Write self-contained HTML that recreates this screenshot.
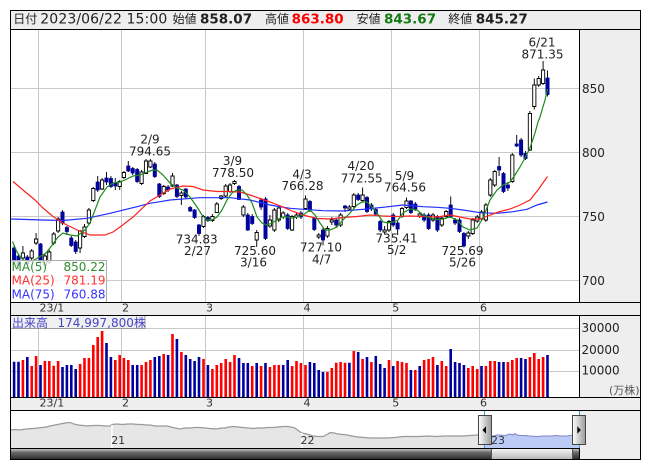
<!DOCTYPE html>
<html><head><meta charset="utf-8"><style>html,body{margin:0;padding:0;background:#fff;}svg{display:block;}</style></head>
<body>
<svg width="653" height="470" viewBox="0 0 653 470" xmlns="http://www.w3.org/2000/svg" font-family="'DejaVu Sans','Noto Sans CJK JP',sans-serif">
<defs>
<linearGradient id="trk" x1="0" y1="0" x2="0" y2="1"><stop offset="0" stop-color="#d0d0d0"/><stop offset="0.35" stop-color="#6a6a6a"/><stop offset="1" stop-color="#2a2a2a"/></linearGradient>
<linearGradient id="thumb" x1="0" y1="0" x2="0" y2="1"><stop offset="0" stop-color="#f8f8f8"/><stop offset="1" stop-color="#b4b4b4"/></linearGradient>
<linearGradient id="hdl" x1="0" y1="0" x2="1" y2="0"><stop offset="0" stop-color="#ffffff"/><stop offset="1" stop-color="#9a9a9a"/></linearGradient>
</defs>
<rect width="653" height="470" fill="#fff"/>
<!-- backgrounds -->
<rect x="10.5" y="10.5" width="630" height="19" fill="#eeeeee"/>
<rect x="579.5" y="29.5" width="61" height="273" fill="#eeeeee"/>
<rect x="10.5" y="302.5" width="630" height="13" fill="#eeeeee"/>
<rect x="579.5" y="315.5" width="61" height="82" fill="#eeeeee"/>
<rect x="10.5" y="397.5" width="630" height="13" fill="#eeeeee"/>
<rect x="579.5" y="410.5" width="61" height="49" fill="#eeeeee"/>
<!-- grid -->
<path d="M10.5 88.5H579M10.5 152.5H579M10.5 216.5H579M10.5 280.5H579M38.5 30V302M121.5 30V302M205.5 30V302M303.5 30V302M391.5 30V302M479.5 30V302M10.5 328.5H579M10.5 350.5H579M10.5 371.5H579M38.5 316V397M121.5 316V397M205.5 316V397M303.5 316V397M391.5 316V397M479.5 316V397" stroke="#c8c8c8" stroke-width="1" fill="none"/>
<!-- wicks -->
<path stroke="#111" stroke-width="1" fill="none" d="M14.1 246V265M18.5 254V270M22.9 246V260M27.3 255V266M31.7 249V262M36.1 233V245M40.5 243V265M44.9 254V268M49.3 250V264M53.7 232V245M58.1 217V233M62.5 210V225M66.9 226V235M71.3 236V247M75.7 240V254M80.1 230V253M84.5 224V238M88.9 208V225M93.3 187V202M97.7 176V192M102.1 178V190M106.5 172V185M110.9 176V188M115.3 178V190M119.7 180V190M123.9 171V179M128.3 161V172M132.7 167V175M137.2 168V183M141.6 170V185M146 159V174M150.4 159V168M154.8 162V178M159.3 183V198M163.7 185V195M168.1 185V192M172.5 173V187M176.9 184V198M181.4 191V205M185.8 188V199M190.2 206V212M194.6 209V219M199 224V236M203.5 215V228M207.9 216V222M212.4 214V222M216.8 202V213M221.2 195V200M225.7 184V198M230.1 183V193M234.5 180V185M239 185V200M243.4 205V217M247.8 213V231M252.2 214V225M256.7 230V247M261.1 198V210M265.5 197V240M269.9 215V228M274.4 208V232M278.8 207V222M283.2 211V219M287.7 213V230M292.1 215V231M296.5 213V219M300.9 211V219M305.5 195.5V210M309.9 200V212M314.3 217V231M318.7 233V239M323 228V245.5M327.4 226V238M331.8 217V225M336.2 218V227M340.6 213V227M345 205V212M349.4 205V211M353.8 193V208M358.2 193V201M362.6 187.5V202M367 196V213M371.4 203V211M375.8 208V216M380.2 220V232M384.6 226V234M389 220V232M393.2 213V227M397.6 221V235M402 207V218M406.5 197.5V209M410.9 200V214M415.3 202V211M419.7 212V218M424.1 213V222M428.6 213V230M433 213V222M437.4 215V232M441.8 216V227M446.2 210V218M450.7 196.5V218M455.1 218V225M459.5 218V233M463.9 232V247.5M468.3 231V239M472.7 218V235M477.2 215V223M481.5 210V221M485.9 203V222M490.3 178V197M494.7 170V187M499.1 157V176M503.5 172V193M507.9 182V191M512.3 153V183M516.7 135V147M521.1 138V157M525.5 151V160M529.9 111V151M534.3 78.5V109.5M538.7 76V87M543.1 61V85M547.5 70.5V96.5"/>
<!-- white bodies -->
<path fill="#fff" stroke="#000" stroke-width="0.9" d="M21.3 253h3.2v5h-3.2zM30.1 251h3.2v7h-3.2zM34.5 239h3.2v4h-3.2zM43.3 256h3.2v9h-3.2zM47.7 252h3.2v10h-3.2zM52.1 234h3.2v9h-3.2zM56.5 219h3.2v12h-3.2zM78.5 231h3.2v17h-3.2zM82.9 227h3.2v9.5h-3.2zM87.3 210h3.2v13h-3.2zM91.7 188.5h3.2v12h-3.2zM100.5 180h3.2v9h-3.2zM118.1 181.5h3.2v5h-3.2zM122.3 172.5h3.2v5h-3.2zM140 172h3.2v11.5h-3.2zM144.4 161h3.2v12.5h-3.2zM148.8 161h3.2v6h-3.2zM162.1 186.5h3.2v7h-3.2zM170.9 176h3.2v10h-3.2zM179.8 193h3.2v2.5h-3.2zM201.9 216.5h3.2v10h-3.2zM210.8 216.5h3.2v4h-3.2zM215.2 204h3.2v8.5h-3.2zM219.6 196h3.2v2.5h-3.2zM224.1 186h3.2v10h-3.2zM228.5 185h3.2v6.5h-3.2zM232.9 181.5h3.2v2h-3.2zM241.8 207h3.2v8h-3.2zM255.1 232.5h3.2v7.5h-3.2zM268.3 220h3.2v6h-3.2zM272.8 210h3.2v20h-3.2zM277.2 208h3.2v12h-3.2zM281.6 213h3.2v4h-3.2zM290.5 216.5h3.2v13.5h-3.2zM294.9 215h3.2v2h-3.2zM303.9 199h3.2v9.5h-3.2zM317.1 235h3.2v2h-3.2zM325.8 228.5h3.2v7.5h-3.2zM330.2 220h3.2v2h-3.2zM339 215h3.2v10h-3.2zM347.8 207h3.2v2h-3.2zM352.2 195h3.2v11.5h-3.2zM361 195h3.2v5.5h-3.2zM383 230h3.2v2h-3.2zM387.4 221.5h3.2v8.5h-3.2zM400.4 208.5h3.2v8h-3.2zM404.9 201h3.2v6.5h-3.2zM418.1 214h3.2v2h-3.2zM431.4 215h3.2v5h-3.2zM440.2 218h3.2v7h-3.2zM444.6 211.5h3.2v5h-3.2zM466.7 233h3.2v3h-3.2zM471.1 220h3.2v13.5h-3.2zM475.6 217h3.2v4h-3.2zM479.9 212h3.2v7h-3.2zM484.3 205h3.2v15h-3.2zM488.7 180h3.2v15h-3.2zM493.1 171.5h3.2v13.5h-3.2zM510.7 155h3.2v26.5h-3.2zM528.3 113.5h3.2v36.5h-3.2zM532.7 85h3.2v21.5h-3.2zM537.1 78.5h3.2v6.5h-3.2zM541.5 70h3.2v13.5h-3.2z"/>
<!-- blue bodies -->
<path fill="#00009c" stroke="#00009c" stroke-width="0.8" d="M12.5 248h3.2v14h-3.2zM16.9 256h3.2v10h-3.2zM25.7 257h3.2v7h-3.2zM38.9 244h3.2v18h-3.2zM60.9 212h3.2v11h-3.2zM65.3 227.5h3.2v4h-3.2zM69.7 238h3.2v7.5h-3.2zM74.1 242h3.2v9.5h-3.2zM96.1 182h3.2v8h-3.2zM104.9 178h3.2v4h-3.2zM109.3 178.5h3.2v8h-3.2zM113.7 183h3.2v3h-3.2zM126.7 166h3.2v5h-3.2zM131.1 168.5h3.2v4.5h-3.2zM135.6 169.5h3.2v12h-3.2zM153.2 164h3.2v12.5h-3.2zM157.7 184h3.2v12.5h-3.2zM166.5 187h3.2v3h-3.2zM175.3 185h3.2v11.5h-3.2zM184.2 189h3.2v8h-3.2zM188.6 207.5h3.2v3.5h-3.2zM193 210h3.2v7.5h-3.2zM197.4 225h3.2v8.5h-3.2zM206.3 217.5h3.2v3h-3.2zM237.4 186.5h3.2v13h-3.2zM246.2 215h3.2v15h-3.2zM250.6 216.5h3.2v7h-3.2zM259.5 200h3.2v7h-3.2zM263.9 199h3.2v39.5h-3.2zM286.1 215h3.2v13.5h-3.2zM299.3 213h3.2v4h-3.2zM308.3 201.5h3.2v8.5h-3.2zM312.7 218.5h3.2v11h-3.2zM321.4 230h3.2v10h-3.2zM334.6 220h3.2v5h-3.2zM343.4 206h3.2v2h-3.2zM356.6 195h3.2v4.5h-3.2zM365.4 197.5h3.2v14h-3.2zM369.8 205h3.2v4h-3.2zM374.2 209.5h3.2v4.5h-3.2zM378.6 221.5h3.2v8.5h-3.2zM391.6 215h3.2v10h-3.2zM396 223h3.2v6h-3.2zM409.3 201h3.2v11.5h-3.2zM413.7 204h3.2v5h-3.2zM422.5 215h3.2v5h-3.2zM427 215h3.2v13.5h-3.2zM435.8 216.5h3.2v13.5h-3.2zM449.1 205h3.2v11.5h-3.2zM453.5 220h3.2v3h-3.2zM457.9 220h3.2v11.5h-3.2zM462.3 233.5h3.2v12.5h-3.2zM497.5 166.5h3.2v3.5h-3.2zM501.9 173.5h3.2v18h-3.2zM506.3 185h3.2v3h-3.2zM515.1 144h3.2v2h-3.2zM519.5 140h3.2v15h-3.2zM523.9 153.5h3.2v5h-3.2zM545.9 78h3.2v16.5h-3.2z"/>
<!-- moving averages -->
<polyline fill="none" stroke="#2030ff" stroke-width="1.2" points="11,219 43,220 63,220.5 87,218.3 110,213.3 137,206.7 150,203.3 160,201.7 170,200 200,197.7 230,197.7 250,200 270,205 290,208.3 303,209.3 323,210.7 343,211 363,209.3 383,207.3 403,205 423,206.7 437,207.3 450,208.3 463,210 480,212.7 497,213.3 513,211.7 527,209.3 537,205 547.5,202"/>
<polyline fill="none" stroke="#ff2020" stroke-width="1.2" points="13,181.5 23,190 35,200 43,208 53,216.5 63,223 77,230 90,235 105,235 113,232 120,227 133,217 150,201 160,195 170,189 183,186 193,186.5 203,190 217,191.5 230,191.5 240,192 250,195 260,198.5 270,202 283,207 292,211 303,215 317,218.5 330,219 343,217.5 357,216.5 370,215 383,216 397,216.5 410,216 423,216.5 437,217 450,215 460,217 470,219 480,219 490,215 500,211.5 510,209 520,205 530,200 538,190 547.5,176.5"/>
<polyline fill="none" stroke="#1d8a1d" stroke-width="1.2" points="12.5,241.5 16,250 20,257 25,261 30,262 36,259 41,256 46,253 53,244 58,237 63,233 70,235 77,236 85,230 90,223 95,210 100,197 107,187 113,183 120,182 127,179 133,176 140,175 147,172 153,170 157,170 163,175 170,183 177,188 183,190 190,197 197,207 202,215 207,220 212,220 217,217 222,210 227,200 232,193 237,190 242,190 247,195 252,203 257,217 262,223 267,225 272,223 277,220 282,217 287,217 292,218 297,217 303,215 310,210 315,215 320,223 325,230 330,230 337,227 343,220 350,213 357,205 362,202 367,202 372,207 377,213 383,222 388,223 393,222 398,220 403,213 410,209 417,210 423,215 430,218 437,219.5 443,219 450,217 457,220 463,227 470,230 477,228 483,218 490,200 497,190 503,185 510,182 515,175 520,167 525,158 530,148 535,133 538,122 540,117 545,100 547.5,89"/>
<!-- annotations -->
<g font-size="12" fill="#222" text-anchor="middle">
<text x="150" y="143.5">2/9</text><text x="150" y="155.5">794.65</text>
<text x="232.5" y="165">3/9</text><text x="233" y="176.8">778.50</text>
<text x="196.7" y="243.4">734.83</text><text x="197.5" y="255">2/27</text>
<text x="255" y="255">725.60</text><text x="253.5" y="266.7">3/16</text>
<text x="302" y="178.3">4/3</text><text x="302.5" y="190">766.28</text>
<text x="361" y="170">4/20</text><text x="361.7" y="182.5">772.55</text>
<text x="404.5" y="180">5/9</text><text x="405" y="191.7">764.56</text>
<text x="321" y="251.7">727.10</text><text x="321.7" y="263.5">4/7</text>
<text x="396.5" y="242.5">735.41</text><text x="396.7" y="254">5/2</text>
<text x="462.5" y="255">725.69</text><text x="462.5" y="266.5">5/26</text>
<text x="542" y="46.7">6/21</text><text x="542.5" y="58.3">871.35</text>
</g>
<!-- MA legend -->
<rect x="10.5" y="260.5" width="96" height="42" fill="#ffffff" fill-opacity="0.8" stroke="#aaaaaa" stroke-width="1"/>
<g font-size="12">
<text x="11.5" y="271" fill="#2f8f2f">MA(5)</text><text x="105.5" y="271" fill="#2f8f2f" text-anchor="end">850.22</text>
<text x="11.5" y="284.7" fill="#ff3030">MA(25)</text><text x="105.5" y="284.7" fill="#ff3030" text-anchor="end">781.19</text>
<text x="11.5" y="298.3" fill="#3535ff">MA(75)</text><text x="105.5" y="298.3" fill="#3535ff" text-anchor="end">760.88</text>
</g>
<!-- price axis labels -->
<g font-size="12" fill="#222">
<text x="582" y="92.8">850</text><text x="582" y="156.8">800</text><text x="582" y="220.8">750</text><text x="582" y="284.8">700</text>
<text x="581.5" y="331.8">30000</text><text x="581.5" y="354">20000</text><text x="581.5" y="374.6">10000</text>
</g>
<text x="609" y="394" font-size="11" fill="#555">(万株)</text>
<!-- date labels -->
<g font-size="11" fill="#333">
<text x="39.5" y="311.6">23/1</text><text x="122" y="311.6">2</text><text x="206" y="311.6">3</text><text x="303.5" y="311.6">4</text><text x="392.3" y="311.6">5</text><text x="480" y="311.6">6</text>
<text x="39.5" y="406.7">23/1</text><text x="122" y="406.7">2</text><text x="206" y="406.7">3</text><text x="303.5" y="406.7">4</text><text x="392.3" y="406.7">5</text><text x="480" y="406.7">6</text>
</g>
<!-- volume bars -->
<path fill="#ff0000" d="M21.6 360h2.6V397h-2.6zM30.4 366h2.6V397h-2.6zM34.8 356h2.6V397h-2.6zM43.6 361h2.6V397h-2.6zM48 361h2.6V397h-2.6zM52.4 365.7h2.6V397h-2.6zM56.8 361h2.6V397h-2.6zM78.8 364h2.6V397h-2.6zM83.2 358h2.6V397h-2.6zM87.6 358h2.6V397h-2.6zM92 345h2.6V397h-2.6zM96.4 337h2.6V397h-2.6zM100.8 331h2.6V397h-2.6zM114 360h2.6V397h-2.6zM118.4 355h2.6V397h-2.6zM122.6 358h2.6V397h-2.6zM127 360h2.6V397h-2.6zM140.3 365h2.6V397h-2.6zM144.7 362h2.6V397h-2.6zM149.1 360h2.6V397h-2.6zM162.4 354h2.6V397h-2.6zM171.2 334h2.6V397h-2.6zM180.1 352h2.6V397h-2.6zM202.2 359h2.6V397h-2.6zM211.1 369h2.6V397h-2.6zM215.5 365h2.6V397h-2.6zM219.9 363h2.6V397h-2.6zM224.4 359h2.6V397h-2.6zM228.8 362h2.6V397h-2.6zM233.2 355h2.6V397h-2.6zM250.9 366h2.6V397h-2.6zM259.8 366h2.6V397h-2.6zM268.6 367h2.6V397h-2.6zM273.1 365h2.6V397h-2.6zM277.5 365h2.6V397h-2.6zM290.8 366h2.6V397h-2.6zM295.2 361h2.6V397h-2.6zM299.6 363h2.6V397h-2.6zM304.2 365h2.6V397h-2.6zM326.1 372h2.6V397h-2.6zM330.5 368h2.6V397h-2.6zM334.9 362.7h2.6V397h-2.6zM339.3 362h2.6V397h-2.6zM343.7 362.7h2.6V397h-2.6zM352.5 351h2.6V397h-2.6zM361.3 359h2.6V397h-2.6zM370.1 362h2.6V397h-2.6zM387.7 360h2.6V397h-2.6zM396.3 361h2.6V397h-2.6zM400.7 362h2.6V397h-2.6zM405.2 363h2.6V397h-2.6zM414 370h2.6V397h-2.6zM422.8 360h2.6V397h-2.6zM427.3 359h2.6V397h-2.6zM431.7 357h2.6V397h-2.6zM440.5 361h2.6V397h-2.6zM444.9 366h2.6V397h-2.6zM467 368h2.6V397h-2.6zM471.4 366h2.6V397h-2.6zM475.9 369h2.6V397h-2.6zM484.6 366h2.6V397h-2.6zM489 361h2.6V397h-2.6zM493.4 361h2.6V397h-2.6zM506.6 362h2.6V397h-2.6zM511 360h2.6V397h-2.6zM515.4 358h2.6V397h-2.6zM528.6 357h2.6V397h-2.6zM533 353h2.6V397h-2.6zM537.4 359h2.6V397h-2.6zM541.8 357h2.6V397h-2.6z"/>
<path fill="#00009c" d="M12.8 361.7h2.6V397h-2.6zM17.2 361.7h2.6V397h-2.6zM26 357h2.6V397h-2.6zM39.2 365h2.6V397h-2.6zM61.2 367h2.6V397h-2.6zM65.6 365h2.6V397h-2.6zM70 365h2.6V397h-2.6zM74.4 369h2.6V397h-2.6zM105.2 343h2.6V397h-2.6zM109.6 357h2.6V397h-2.6zM131.4 365h2.6V397h-2.6zM135.9 365h2.6V397h-2.6zM153.5 357h2.6V397h-2.6zM158 356h2.6V397h-2.6zM166.8 355h2.6V397h-2.6zM175.6 339h2.6V397h-2.6zM184.5 355h2.6V397h-2.6zM188.9 359h2.6V397h-2.6zM193.3 361h2.6V397h-2.6zM197.7 357h2.6V397h-2.6zM206.6 365h2.6V397h-2.6zM237.7 358h2.6V397h-2.6zM242.1 363h2.6V397h-2.6zM246.5 363h2.6V397h-2.6zM255.4 363h2.6V397h-2.6zM264.2 363h2.6V397h-2.6zM281.9 365h2.6V397h-2.6zM286.4 360h2.6V397h-2.6zM308.6 362h2.6V397h-2.6zM313 363h2.6V397h-2.6zM317.4 370h2.6V397h-2.6zM321.7 372h2.6V397h-2.6zM348.1 362.7h2.6V397h-2.6zM356.9 352h2.6V397h-2.6zM365.7 357h2.6V397h-2.6zM374.5 356h2.6V397h-2.6zM378.9 364h2.6V397h-2.6zM383.3 368h2.6V397h-2.6zM391.9 366h2.6V397h-2.6zM409.6 370h2.6V397h-2.6zM418.4 366h2.6V397h-2.6zM436.1 365h2.6V397h-2.6zM449.4 349h2.6V397h-2.6zM453.8 362h2.6V397h-2.6zM458.2 363h2.6V397h-2.6zM462.6 365h2.6V397h-2.6zM480.2 366h2.6V397h-2.6zM497.8 362h2.6V397h-2.6zM502.2 362h2.6V397h-2.6zM519.8 358h2.6V397h-2.6zM524.2 359h2.6V397h-2.6zM546.2 355h2.6V397h-2.6z"/>
<!-- volume label -->
<rect x="10.5" y="315.5" width="134.5" height="13" fill="#eeeeee" fill-opacity="0.9" stroke="#999" stroke-width="1"/>
<text x="12" y="327" font-size="12" fill="#4545c8">出来高</text>
<text x="57.5" y="327" font-size="12" fill="#4545c8">174,997,800株</text>
<!-- navigator -->
<polygon fill="#e6e6e6" points="10.5,430 15,429.5 20,430 26,429 33,428.5 38,428 42,427.5 46,427 50,426 55,425 60,424 65,423 70,422.5 74,424 78,425 83,425.5 87,426 93,425.5 100,425.5 105,426 110,426 112,424.5 117,424 122,424.5 128,424 133,424 138,424.5 142,424.5 146,425 150,425 155,426 160,426 167,426 171,427 175,428 180,429 185,428 190,428 195,427.5 200,427.5 205,428 210,428.5 217,429 221,428 225,428 229,427 233,426.5 238,427 243,427.5 248,428 253,428.5 258,428 263,428 268,427.5 273,427.5 278,427 283,426.5 287,426.5 291,427 295,428 298,430.5 302,433 307,434 313,436 318,436.5 323,436.5 326,435 328,434 330,432.5 334,433 338,434 343,434.5 347,435 352,436 358,437 364,437.5 370,438 378,438 387,438 395,437.5 403,436.5 410,436.5 420,436.5 428,436 437,436.5 444,436 450,436 457,436 463,436 470,435.5 478,435 484.5,435 484.5,448 10.5,448"/>
<polyline fill="none" stroke="#9a9a9a" stroke-width="1.2" points="10.5,430 15,429.5 20,430 26,429 33,428.5 38,428 42,427.5 46,427 50,426 55,425 60,424 65,423 70,422.5 74,424 78,425 83,425.5 87,426 93,425.5 100,425.5 105,426 110,426 112,424.5 117,424 122,424.5 128,424 133,424 138,424.5 142,424.5 146,425 150,425 155,426 160,426 167,426 171,427 175,428 180,429 185,428 190,428 195,427.5 200,427.5 205,428 210,428.5 217,429 221,428 225,428 229,427 233,426.5 238,427 243,427.5 248,428 253,428.5 258,428 263,428 268,427.5 273,427.5 278,427 283,426.5 287,426.5 291,427 295,428 298,430.5 302,433 307,434 313,436 318,436.5 323,436.5 326,435 328,434 330,432.5 334,433 338,434 343,434.5 347,435 352,436 358,437 364,437.5 370,438 378,438 387,438 395,437.5 403,436.5 410,436.5 420,436.5 428,436 437,436.5 444,436 450,436 457,436 463,436 470,435.5 478,435 484.5,435"/>
<path d="M112 425V448M302 433V448" stroke="#fff" stroke-width="1.5"/>
<polygon fill="#bccbf6" points="484.5,435 490,435.5 493,436 497,435 500,435 505,435.5 510,434 513,435 515,433.5 517,435 520,435.5 525,435.5 530,436 537,436.5 543,436 550,436 556,435.5 560,436 567,436 573,435 579.5,435 579.5,448 484.5,448"/>
<polyline fill="none" stroke="#8585c8" stroke-width="1.1" points="484.5,435 490,435.5 493,436 497,435 500,435 505,435.5 510,434 513,435 515,433.5 517,435 520,435.5 525,435.5 530,436 537,436.5 543,436 550,436 556,435.5 560,436 567,436 573,435 579.5,435"/>
<g font-size="11" fill="#333">
<text x="111.2" y="444">21</text><text x="300.5" y="444">22</text><text x="491" y="444">23</text>
</g>
<path d="M484.5 410.5V448M579.5 410.5V448" stroke="#3399dd" stroke-width="1"/>
<!-- scrollbar -->
<rect x="10.5" y="448.5" width="481" height="11" fill="url(#trk)"/>
<rect x="572.5" y="448.5" width="7" height="11" fill="url(#trk)" stroke="#333" stroke-width="1"/>
<rect x="491.5" y="448.5" width="81" height="11" fill="url(#thumb)" stroke="#555" stroke-width="1"/>
<!-- handles -->
<rect x="478.5" y="415.5" width="13" height="29" fill="url(#hdl)" stroke="#444" stroke-width="1"/>
<polygon points="482.5,430 486,426.3 486,433.7" fill="#000"/>
<rect x="572.5" y="415.5" width="13" height="29" fill="url(#hdl)" stroke="#444" stroke-width="1"/>
<polygon points="577.3,426.3 577.3,433.7 580.8,430" fill="#000"/>
<!-- structural lines -->
<path d="M10.5 29.5H640.5M10.5 302.5H640.5M10.5 315.5H640.5M10.5 397.5H640.5M10.5 410.5H640.5M10.5 448.5H579.5M579.5 29.5V302.5M579.5 315.5V397.5M579.5 448.5V459.5" stroke="#000" stroke-width="1" fill="none"/>
<rect x="10.5" y="10.5" width="630" height="449" fill="none" stroke="#000" stroke-width="1"/>
<!-- header -->
<g fill="#222">
<text x="13.3" y="23.2" font-size="12" font-family="'Liberation Sans','Noto Sans CJK JP',sans-serif">日付</text>
<text x="40.3" y="23.4" font-size="14" textLength="127" lengthAdjust="spacing">2023/06/22 15:00</text>
<text x="172.6" y="23.2" font-size="12" font-family="'Liberation Sans','Noto Sans CJK JP',sans-serif">始値</text>
<text x="200" y="23.4" font-size="13.5" font-weight="bold">858.07</text>
<text x="265" y="23.2" font-size="12" font-family="'Liberation Sans','Noto Sans CJK JP',sans-serif">高値</text>
<text x="291.6" y="23.4" font-size="13.5" font-weight="bold" fill="#ff0000">863.80</text>
<text x="356.6" y="23.2" font-size="12" font-family="'Liberation Sans','Noto Sans CJK JP',sans-serif">安値</text>
<text x="384" y="23.4" font-size="13.5" font-weight="bold" fill="#137a13">843.67</text>
<text x="448.3" y="23.2" font-size="12" font-family="'Liberation Sans','Noto Sans CJK JP',sans-serif">終値</text>
<text x="475.7" y="23.4" font-size="13.5" font-weight="bold">845.27</text>
</g>
</svg>
</body></html>
